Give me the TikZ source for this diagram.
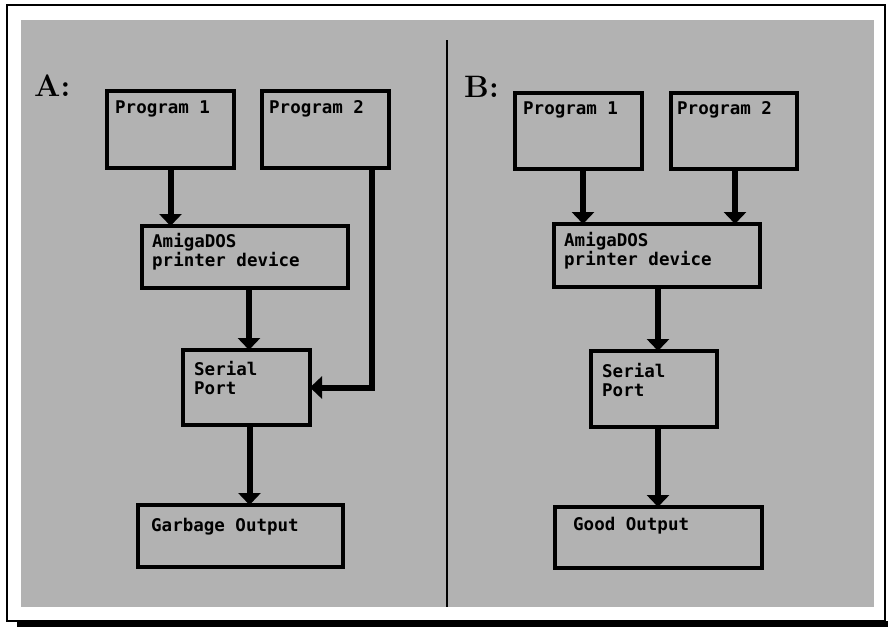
\documentclass[tikz,border=0pt]{standalone}
\usepackage{fontspec}
\newfontfamily\amiga{DejaVu Sans Mono}
\usetikzlibrary{arrows.meta,calc}
\begin{document}
\begin{tikzpicture}[x=1pt,y=-1pt,
  box/.style={draw=black,line width=4pt,inner sep=0pt,outer sep=0pt,minimum width=#1},
  box/.default=127pt,
  txt/.style={anchor=base west,inner sep=0pt,align=left,font=\amiga\bfseries\fontsize{17.5}{19}\selectfont},
  panel/.style={anchor=base west,inner sep=0pt,font=\bfseries\fontsize{31}{31}\selectfont},
  flow/.style={line width=6pt,-{Triangle[width=22pt,length=12pt]}},
  feed/.style={line width=6pt}]
\useasboundingbox (0,0) rectangle (888,627);
\fill[white] (0,0) rectangle (888,627);
\draw[line width=1.3pt] (7,5) rectangle (885,621);
\fill[black] (17,621) rectangle (888,627);
\fill[black!30] (21,20) rectangle (874,607);
\draw[line width=1.4pt] (447,40) -- (447,607);

% Panel A
\node[panel] (la) at (34,96) {A:};
\node[box,minimum height=77pt] (p1a) at (170.5,129.5) {};
\node[box,minimum height=77pt] (p2a) at (325.5,129.5) {};
\node[box=206pt,minimum height=62pt] (ada) at (245,257) {};
\node[box,minimum height=75pt] (spa) at (246.5,387.5) {};
\node[box=205pt,minimum height=62pt] (goa) at (240.5,536) {};
\node[txt] (tp1a) at (115,113) {Program 1};
\node[txt] (tp2a) at (269,113) {Program 2};
\node[txt] (tada) at (152,266) {AmigaDOS\\printer device};
\node[txt] (tspa) at (194,394) {Serial\\Port};
\node[txt] (tgoa) at (151,531) {Garbage Output};
\draw[flow] (p1a.south) -- (p1a.south |- ada.north);
\draw[flow] ([xshift=4pt]ada.south) -- ([xshift=4pt]ada.south |- spa.north);
\draw[flow] ([xshift=3pt]spa.south) -- ([xshift=3pt]spa.south |- goa.north);
\draw[flow] ([xshift=46pt]p2a.south) |- (spa.east);

% Panel B
\node[panel] (lb) at (464,97) {B:};
\node[box,minimum height=76pt] (p1b) at (578.5,131) {};
\node[box=126pt,minimum height=76pt] (p2b) at (734,131) {};
\node[box=206pt,minimum height=63pt] (adb) at (657,255.5) {};
\node[box=126pt,minimum height=76pt] (spb) at (654,389) {};
\node[box=207pt,minimum height=61pt] (gob) at (658.5,537.5) {};
\node[txt] (tp1b) at (523,114) {Program 1};
\node[txt] (tp2b) at (677,114) {Program 2};
\node[txt] (tadb) at (564,265) {AmigaDOS\\printer device};
\node[txt] (tspb) at (602,396) {Serial\\Port};
\node[txt] (tgob) at (573,530) {Good Output};
\draw[flow] ([xshift=4.5pt]p1b.south) -- ([xshift=4.5pt]p1b.south |- adb.north);
\draw[flow] ([xshift=1pt]p2b.south) -- ([xshift=1pt]p2b.south |- adb.north);
\draw[flow] ([xshift=1pt]adb.south) -- ([xshift=1pt]adb.south |- spb.north);
\draw[flow] ([xshift=4pt]spb.south) -- ([xshift=4pt]spb.south |- gob.north);
\end{tikzpicture}
\end{document}
